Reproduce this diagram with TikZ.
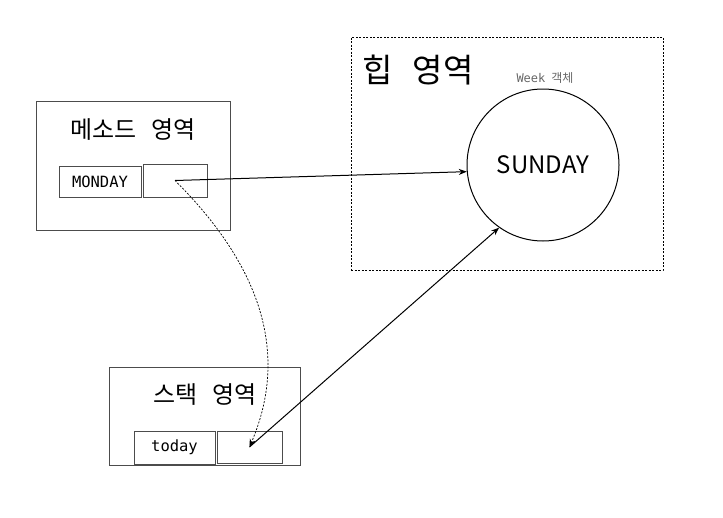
\documentclass[tikz,border=0pt]{standalone}
\usepackage{fontspec}
\setmainfont{Noto Sans CJK KR}
\setmonofont{DejaVu Sans Mono}
\usetikzlibrary{arrows.meta}

\tikzstyle{area} = [rectangle, draw=black!70, line width=0.8pt]
\tikzstyle{heaparea} = [rectangle, draw=black, dash pattern=on 2pt off 1.5pt, line width=0.7pt]
\tikzstyle{cell} = [rectangle, draw=black!70, line width=0.8pt, font=\fontsize{15.5}{18}\selectfont\ttfamily]
\tikzstyle{title} = [font=\fontsize{24}{28}\selectfont]
\tikzstyle{object} = [circle, draw=black, line width=1pt, minimum size=152pt, font=\fontsize{24}{28}\selectfont]
\tikzstyle{arrow} = [line width=1pt,-{Stealth[length=8pt,width=6pt]}]
\tikzstyle{refarrow} = [line width=0.7pt,dash pattern=on 2pt off 1.5pt,-{Stealth[length=8pt,width=6pt]}]

\begin{document}
\begin{tikzpicture}[x=1pt,y=-1pt]
    \useasboundingbox (0,0) rectangle (723,517);

    % method area
    \node (method) [area, minimum width=194pt, minimum height=129pt] at (133,165.5) {};
    \node (methodtitle) [title] at (133,130) {메소드\hspace{0.6em}영역};
    \node (monday) [cell, minimum width=82pt, minimum height=31pt] at (100,181.5) {MONDAY};
    \node (mref) [cell, minimum width=64pt, minimum height=33pt] at (175,180.5) {};

    % heap area
    \node (heap) [heaparea, minimum width=312pt, minimum height=233pt] at (507,153.5) {};
    \node (heaptitle) [font=\fontsize{33}{38}\selectfont] at (418,70) {힙\hspace{0.6em}영역};
    \node (weeklabel) [text=black!60, font=\fontsize{12}{15}\selectfont] at (545,78) {\texttt{Week}\hspace{0.5em}객체};
    \node (sunday) [object] at (543,165) {SUNDAY};

    % stack area
    \node (stack) [area, minimum width=191pt, minimum height=98pt] at (204.5,416) {};
    \node (stacktitle) [title] at (205,395) {스택\hspace{0.6em}영역};
    \node (today) [cell, minimum width=81pt, minimum height=33pt] at (174.5,447.5) {today};
    \node (sref) [cell, minimum width=65pt, minimum height=32pt] at (249.5,447) {};

    \draw [arrow] (mref.center) -- (sunday.185);
    \draw [arrow] (sref.center) -- (sunday.235);
    \draw [refarrow] (mref.center) .. controls (285,290) and (278,380) .. (sref.center);

\end{tikzpicture}
\end{document}
